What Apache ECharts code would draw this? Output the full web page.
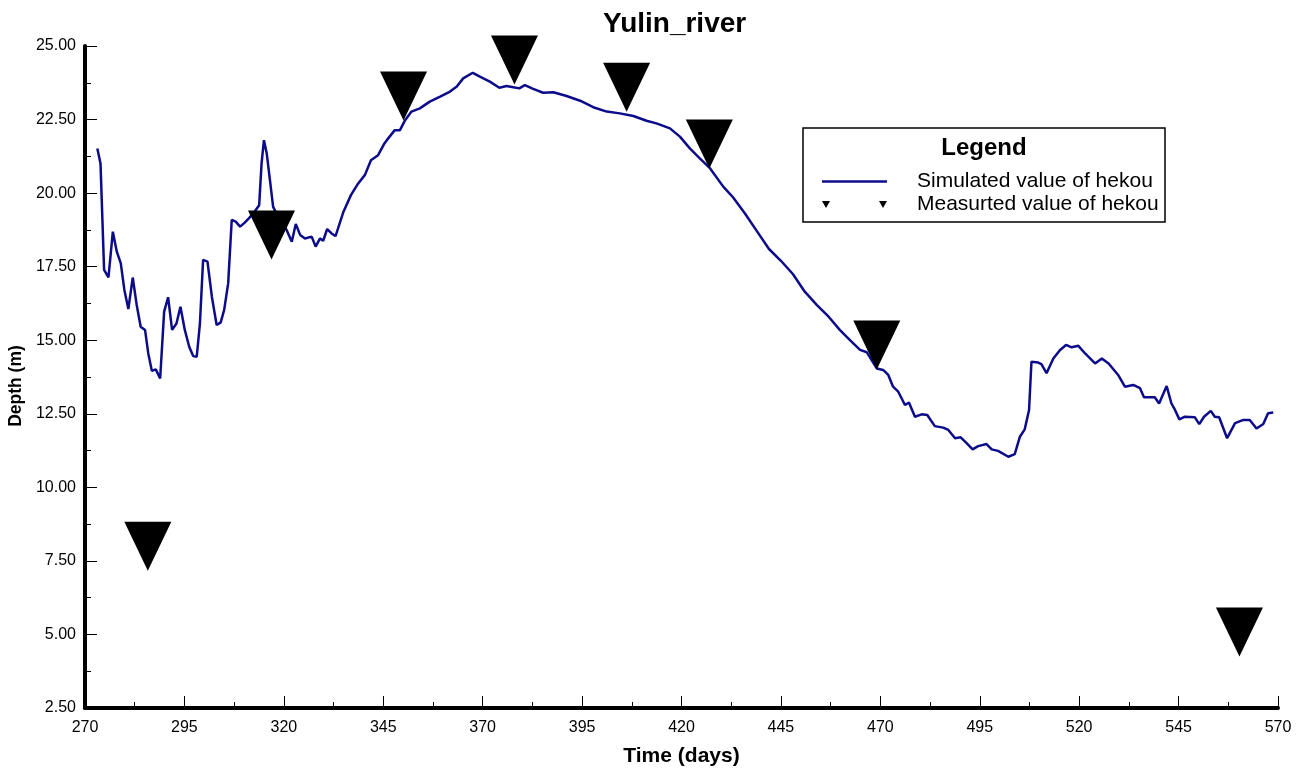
<!DOCTYPE html>
<html>
<head>
<meta charset="utf-8">
<title>Yulin_river</title>
<script src="https://cdn.jsdelivr.net/npm/echarts@6/dist/echarts.min.js"></script>
<style>
    html, body { margin: 0; padding: 0; background: #fff; }
    #chart { width: 1306px; height: 773px; }
</style>
</head>
<body>
<div id="chart"></div>
<script>
// simulated depth
var simDays = [273.1, 273.9, 274.8, 275.9, 277.0, 278.0, 279.0, 279.9, 280.9, 282.0, 283.0, 284.0, 285.1, 285.9, 286.8, 287.8, 288.9, 289.9, 290.9, 291.9,
    293.0, 294.0, 295.1, 296.2, 297.2, 298.1, 298.9, 299.7, 300.8, 301.9, 303.1, 304.1, 305.0, 306.0, 306.9, 307.9, 309.0, 310.1, 311.2, 312.3,
    313.8, 314.4, 315.0, 315.7, 316.5, 317.3, 318.5, 319.5, 320.7, 322.0, 323.0, 324.1, 325.3, 327.0, 328.0, 329.1, 329.9, 330.9, 332.0, 333.0,
    335.0, 336.9, 338.7, 340.4, 341.9, 343.7, 345.3, 345.9, 347.9, 349.2, 350.5, 352.1, 354.2, 356.7, 359.3, 361.8, 363.5, 365.1, 367.5, 369.3,
    371.8, 374.2, 376.0, 377.7, 379.2, 380.6, 382.7, 385.2, 387.8, 391.1, 394.5, 397.8, 401.2, 404.5, 407.9, 411.2, 413.7, 417.1, 419.6, 422.1,
    424.6, 427.2, 430.5, 433.0, 436.0, 439.0, 442.0, 445.0, 448.0, 451.0, 454.0, 457.0, 459.8, 462.3, 464.9, 466.6, 469.1, 470.7, 472.0, 473.2,
    474.5, 476.2, 477.2, 478.7, 480.4, 481.8, 483.7, 485.8, 487.1, 488.8, 490.2, 491.7, 493.2, 494.6, 496.7, 498.0, 499.6, 502.2, 503.8, 505.1,
    506.3, 507.4, 508.0, 509.7, 510.5, 511.8, 513.5, 515.2, 516.7, 518.1, 519.8, 521.5, 524.0, 525.7, 527.4, 529.8, 531.5, 533.6, 535.3, 536.3,
    539.0, 540.1, 542.0, 543.2, 544.1, 545.2, 546.6, 549.1, 550.2, 551.4, 553.1, 554.1, 555.2, 557.2, 559.2, 561.3, 562.9, 564.6, 566.3, 567.5,
    568.8];
var simDepth = [21.52, 21.01, 17.39, 17.14, 18.69, 18.01, 17.61, 16.71, 16.06, 17.13, 16.20, 15.46, 15.35, 14.56, 13.96, 14.01, 13.70, 15.97, 16.46, 15.35,
    15.57, 16.14, 15.35, 14.78, 14.46, 14.44, 15.57, 17.73, 17.67, 16.48, 15.52, 15.60, 16.03, 16.93, 19.09, 19.03, 18.86, 18.99, 19.14, 19.31,
    19.59, 21.01, 21.80, 21.35, 20.45, 19.54, 19.20, 19.00, 18.75, 18.35, 18.95, 18.58, 18.46, 18.52, 18.18, 18.46, 18.38, 18.78, 18.63, 18.54,
    19.37, 19.94, 20.33, 20.62, 21.12, 21.29, 21.69, 21.80, 22.14, 22.14, 22.48, 22.77, 22.88, 23.11, 23.28, 23.45, 23.62, 23.90, 24.09, 23.96,
    23.79, 23.58, 23.64, 23.60, 23.56, 23.67, 23.54, 23.41, 23.43, 23.30, 23.14, 22.92, 22.77, 22.71, 22.62, 22.46, 22.37, 22.20, 21.92, 21.52,
    21.18, 20.84, 20.22, 19.85, 19.30, 18.70, 18.10, 17.70, 17.25, 16.65, 16.20, 15.80, 15.35, 15.01, 14.67, 14.59, 14.04, 13.99, 13.82, 13.42,
    13.25, 12.80, 12.88, 12.40, 12.48, 12.46, 12.08, 12.03, 11.95, 11.67, 11.70, 11.50, 11.29, 11.40, 11.47, 11.29, 11.24, 11.04, 11.13, 11.72,
    11.97, 12.63, 14.27, 14.24, 14.19, 13.88, 14.38, 14.67, 14.84, 14.76, 14.81, 14.55, 14.21, 14.38, 14.21, 13.82, 13.42, 13.48, 13.37, 13.06,
    13.06, 12.85, 13.44, 12.85, 12.63, 12.31, 12.40, 12.38, 12.15, 12.40, 12.60, 12.40, 12.38, 11.67, 12.18, 12.29, 12.29, 12.00, 12.15, 12.52,
    12.54];

// measured depth
var measDays = [285.8, 316.9, 350.1, 378.0, 406.2, 427.0, 469.1, 560.3];
var measDepth = [8.00, 18.58, 23.30, 24.52, 23.60, 21.67, 14.84, 5.08];

var simData = simDays.map(function (d, i) { return [d, simDepth[i]]; });
var measData = measDays.map(function (d, i) { return [d, measDepth[i]]; });

var fontName = 'Liberation Sans, Arial, sans-serif';
var chartDom = document.getElementById('chart');
var myChart = echarts.init(chartDom);
var option;

option = {
    animation: false,
    textStyle: { fontFamily: fontName },
    title: {
        text: 'Yulin_river',
        left: 603,
        top: 10,
        padding: 0,
        textStyle: { fontSize: 28, fontWeight: 'bold', color: '#000', fontFamily: fontName }
    },
    grid: { left: 85, right: 28, top: 46, bottom: 65, outerBoundsMode: 'none', containLabel: false },
    xAxis: {
        type: 'value',
        min: 270,
        max: 570,
        interval: 25,
        name: 'Time (days)',
        nameLocation: 'middle',
        nameGap: 38,
        nameTextStyle: { fontSize: 21, fontWeight: 'bold', color: '#000', fontFamily: fontName },
        axisLine: { show: true, onZero: false, lineStyle: { color: '#000', width: 4 } },
        axisTick: { show: true, inside: true, length: 12, lineStyle: { color: '#000', width: 1 } },
        minorTick: { show: true, splitNumber: 2, length: 6, lineStyle: { color: '#000', width: 1 } },
        axisLabel: { fontSize: 16, color: '#000', margin: 12, fontFamily: fontName },
        splitLine: { show: false }
    },
    yAxis: {
        type: 'value',
        min: 2.5,
        max: 25,
        interval: 2.5,
        name: 'Depth (m)',
        nameLocation: 'middle',
        nameGap: 58,
        nameTextStyle: { fontSize: 17.5, fontWeight: 'bold', color: '#000', fontFamily: fontName, padding: [0, 18, 0, 0] },
        axisLine: { show: true, onZero: false, lineStyle: { color: '#000', width: 4 } },
        axisTick: { show: true, inside: true, length: 12, lineStyle: { color: '#000', width: 1 } },
        minorTick: { show: true, splitNumber: 2, length: 6, lineStyle: { color: '#000', width: 1 } },
        axisLabel: {
            fontSize: 16, color: '#000', margin: 9, fontFamily: fontName,
            formatter: function (v) { return v.toFixed(2); }
        },
        splitLine: { show: false }
    },
    legend: {
        orient: 'vertical',
        left: 822,
        top: 171,
        padding: 0,
        itemGap: 2,
        itemWidth: 65,
        itemHeight: 10,
        selectedMode: false,
        textStyle: { fontSize: 21, color: '#000', lineHeight: 21, padding: [0, 0, 0, 25], fontFamily: fontName },
        data: [
            { name: 'Simulated value of hekou', icon: 'path://M0,0 L65,0 L65,2.5 L0,2.5 Z' },
            { name: 'Measurted value of hekou', icon: 'path://M0,0 L8,0 L4,7 Z M57,0 L65,0 L61,7 Z' }
        ]
    },
    graphic: [
        {
            type: 'rect',
            shape: { x: 803, y: 128, width: 362, height: 94 },
            style: { fill: '#fff', stroke: '#000', lineWidth: 1.5 },
            z: -1
        },
        {
            type: 'text',
            x: 984,
            y: 148,
            style: {
                text: 'Legend', fontSize: 24, fontWeight: 'bold', fill: '#000',
                fontFamily: fontName, align: 'center', verticalAlign: 'middle'
            }
        }
    ],
    series: [
        {
            name: 'Simulated value of hekou',
            type: 'line',
            data: simData,
            showSymbol: false,
            symbol: 'none',
            color: '#0c0c8a',
            lineStyle: { color: '#0c0c8a', width: 2.5 },
            z: 2
        },
        {
            name: 'Measurted value of hekou',
            type: 'scatter',
            data: measData,
            symbol: 'triangle',
            symbolRotate: 180,
            symbolSize: [47, 49],
            color: '#000',
            itemStyle: { color: '#000', opacity: 1 },
            z: 3
        }
    ]
};
option && myChart.setOption(option);
</script>
</body>
</html>
